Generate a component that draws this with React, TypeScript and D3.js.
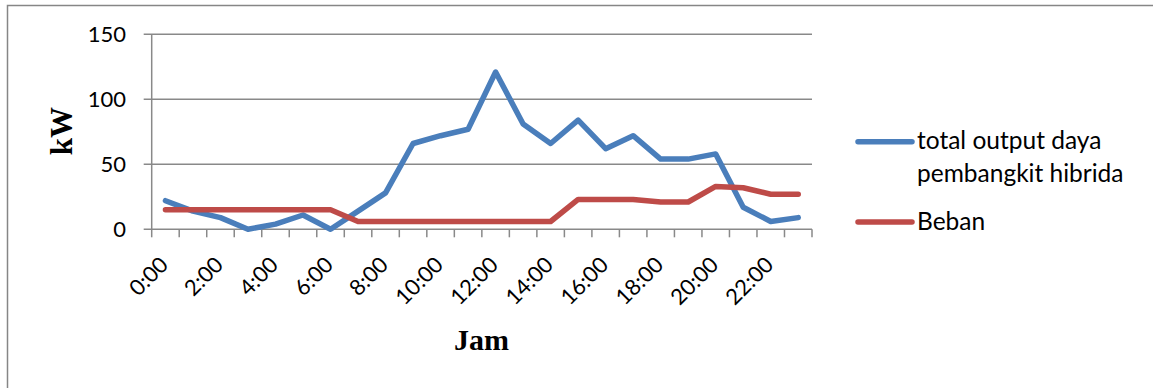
import React from "react";
import * as d3 from "d3";

// Hourly categories 0:00 .. 23:00
const hours: string[] = [
  "0:00", "1:00", "2:00", "3:00", "4:00", "5:00", "6:00", "7:00",
  "8:00", "9:00", "10:00", "11:00", "12:00", "13:00", "14:00", "15:00",
  "16:00", "17:00", "18:00", "19:00", "20:00", "21:00", "22:00", "23:00",
];

// Total output of the hybrid plant (kW)
const totalOutput: number[] = [
  22, 14, 9, 0, 4, 11, 0, 14, 28, 66, 72, 77,
  121, 81, 66, 84, 62, 72, 54, 54, 58, 17, 6, 9,
];

// Load (kW)
const beban: number[] = [
  15, 15, 15, 15, 15, 15, 15, 6, 6, 6, 6, 6,
  6, 6, 6, 23, 23, 23, 21, 21, 33, 32, 27, 27,
];

const yTicks: number[] = [0, 50, 100, 150];
const seriesNames: string[] = ["total output daya|pembangkit hibrida", "Beban"];
const seriesColors: string[] = ["#4a7ebb", "#be4b48"];

const W = 1153;
const H = 388;
const plot = { left: 151.7, right: 812, top: 34.3, bottom: 229.3 };
const sansFont = "Lato, 'Noto Sans', sans-serif";
const serifFont = "'Liberation Serif', 'Times New Roman', serif";
const gridColor = "#898989";

export default function App() {
  const x = d3
    .scaleBand<string>()
    .domain(hours)
    .range([plot.left, plot.right])
    .paddingInner(0)
    .paddingOuter(0);
  const y = d3.scaleLinear().domain([0, 150]).range([plot.bottom, plot.top]);
  const cx = (h: string) => (x(h) as number) + x.bandwidth() / 2;

  const line = d3
    .line<number>()
    .x((_, i) => cx(hours[i]))
    .y((d) => y(d));

  const series = [totalOutput, beban];
  const boundaries = d3.range(hours.length + 1).map((i) => plot.left + i * x.bandwidth());

  return (
    <svg
      width={W}
      height={H}
      style={{ position: "absolute", left: 0, top: 0, background: "#fff" }}
    >
      {/* chart frame */}
      <rect x={7.5} y={5.5} width={W + 10} height={H + 10} fill="none" stroke="#868686" strokeWidth={1.5} />

      {/* horizontal gridlines with tick stubs */}
      {yTicks.map((t) => (
        <g key={t}>
          <line x1={plot.left - 8} x2={plot.right} y1={y(t)} y2={y(t)} stroke={gridColor} strokeWidth={1.5} />
          <text
            x={126}
            y={y(t)}
            dy="0.36em"
            textAnchor="end"
            fontFamily={sansFont}
            fontSize={22}
            fill="#000"
          >
            {t}
          </text>
        </g>
      ))}

      {/* value axis */}
      <line x1={plot.left} x2={plot.left} y1={plot.top} y2={plot.bottom} stroke={gridColor} strokeWidth={1.5} />

      {/* category ticks */}
      {boundaries.map((bx, i) => (
        <line key={i} x1={bx} x2={bx} y1={plot.bottom} y2={plot.bottom + 8} stroke={gridColor} strokeWidth={1.5} />
      ))}

      {/* category labels every two hours */}
      {hours.map((h, i) =>
        i % 2 === 0 ? (
          <text
            key={h}
            transform={`translate(${cx(h) + 4},${plot.bottom + 37}) rotate(-45)`}
            textAnchor="end"
            fontFamily={sansFont}
            fontSize={22}
            fill="#000"
          >
            {h}
          </text>
        ) : null
      )}

      {/* series lines */}
      {series.map((s, k) => (
        <path
          key={k}
          d={line(s) as string}
          fill="none"
          stroke={seriesColors[k]}
          strokeWidth={5.5}
          strokeLinejoin="round"
          strokeLinecap="round"
        />
      ))}

      {/* axis titles */}
      <text
        transform={`translate(72,131) rotate(-90)`}
        textAnchor="middle"
        fontFamily={serifFont}
        fontWeight="bold"
        fontSize={31}
        fill="#000"
      >
        kW
      </text>
      <text
        x={481.5}
        y={350}
        textAnchor="middle"
        fontFamily={serifFont}
        fontWeight="bold"
        fontSize={30}
        fill="#000"
      >
        Jam
      </text>

      {/* legend */}
      {seriesNames.map((name, k) => {
        const ly = k === 0 ? 141.7 : 222;
        const lines = name.split("|");
        return (
          <g key={k}>
            <line x1={858} x2={912} y1={ly} y2={ly} stroke={seriesColors[k]} strokeWidth={5.5} strokeLinecap="round" />
            {lines.map((ln, j) => (
              <text
                key={j}
                x={917}
                y={(k === 0 ? 149.3 : 229.5) + j * 32.4}
                fontFamily={sansFont}
                fontSize={24.5}
                fill="#000"
              >
                {ln}
              </text>
            ))}
          </g>
        );
      })}
    </svg>
  );
}
